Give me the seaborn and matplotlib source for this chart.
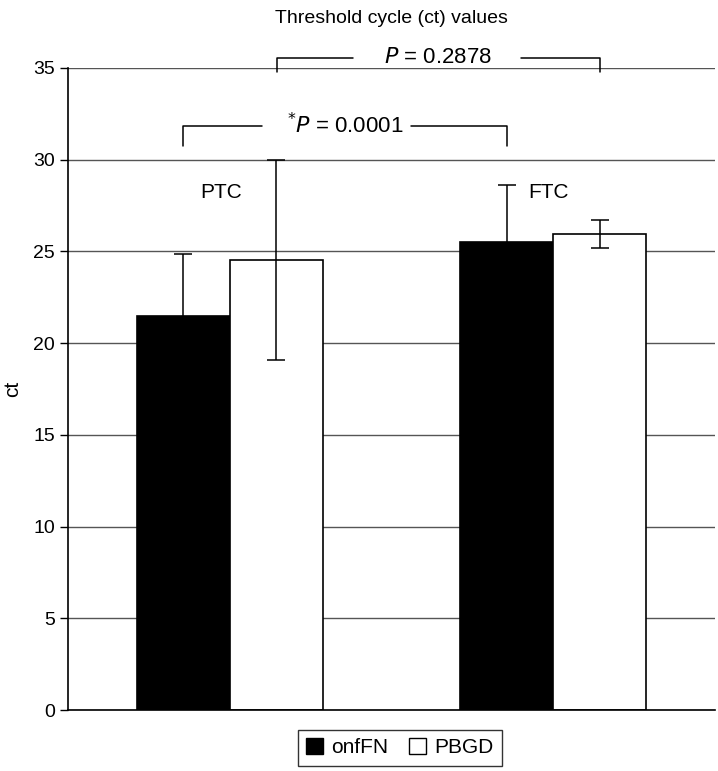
import pandas as pd
import matplotlib
matplotlib.use("Agg")
import matplotlib.pyplot as plt
import seaborn as sns
from matplotlib.patches import Patch

groups = ["PTC", "PTC", "FTC", "FTC"]
series = ["onfFN", "PBGD", "onfFN", "PBGD"]
ct = [21.45, 24.55, 25.5, 25.95]
err = [3.4, 5.45, 3.1, 0.75]

df = pd.DataFrame({"group": groups, "series": series, "ct": ct, "err": err})

sns.set_style("white")
plt.rcParams["font.family"] = ["Liberation Sans", "DejaVu Sans"]
plt.rcParams["text.color"] = "black"
plt.rcParams["axes.labelcolor"] = "black"
plt.rcParams["ytick.color"] = "black"

fig = plt.figure(figsize=(7.18, 7.71), dpi=100)
ax = fig.add_axes([0.095, 0.079, 0.901, 0.833])

sns.barplot(data=df, x="group", y="ct", hue="series", order=["PTC", "FTC"],
            hue_order=["onfFN", "PBGD"], palette=["black", "white"],
            width=0.575, errorbar=None, edgecolor="black", linewidth=1.2,
            legend=False, ax=ax, zorder=2)

# error bars on top of each bar
for cont, lvl in zip(ax.containers, ["onfFN", "PBGD"]):
    sub = df[df["series"] == lvl].set_index("group").loc[["PTC", "FTC"]]
    xs = [p.get_x() + p.get_width() / 2 for p in cont.patches]
    ax.errorbar(xs, sub["ct"], yerr=sub["err"], fmt="none", ecolor="black",
                elinewidth=1.1, capsize=6.5, capthick=1.1, zorder=3)

ax.set_ylim(0, 35)
ax.set_xlim(-0.5, 1.5)
ax.set_yticks(range(0, 36, 5))
ax.yaxis.grid(True, color="#555555", linewidth=1.0)
ax.set_axisbelow(True)
ax.set_xticks([])
ax.set_xlabel("")
ax.set_ylabel("ct", fontsize=15, labelpad=8)
ax.tick_params(axis="y", labelsize=14, left=True, length=6, width=1, color="black")
for s in ["top", "right"]:
    ax.spines[s].set_visible(False)
for s in ["left", "bottom"]:
    ax.spines[s].set_color("black")
    ax.spines[s].set_linewidth(1.2)

ax.set_title("Threshold cycle (ct) values", fontsize=14, pad=32, color="black")

# group labels
ax.text(-0.026, 28.2, "PTC", ha="center", va="center", fontsize=15)
ax.text(0.985, 28.2, "FTC", ha="center", va="center", fontsize=15)

# significance brackets
def bracket(x1, x2, ytop, ybot, g1, g2, label):
    kw = dict(color="black", lw=1.1, clip_on=False)
    ax.plot([x1, x1, g1], [ybot, ytop, ytop], **kw)
    ax.plot([g2, x2, x2], [ytop, ytop, ybot], **kw)
    ax.text((x1 + x2) / 2, ytop, label, ha="center", va="center", fontsize=16)

bracket(-0.144, 0.856, 31.85, 30.75, 0.1, 0.86 - 0.3, r"$^{*}$$\it{P}$ = 0.0001")
bracket(0.144, 1.144, 35.55, 34.8, 0.38, 0.9, r"$\it{P}$ = 0.2878")

handles = [Patch(facecolor="black", edgecolor="black", label="onfFN"),
           Patch(facecolor="white", edgecolor="black", label="PBGD")]
fig.legend(handles=handles, loc="center", bbox_to_anchor=(0.557, 0.03), ncol=2,
           frameon=True, fancybox=False, edgecolor="black", fontsize=15,
           handlelength=0.8, handleheight=0.8, handletextpad=0.4, columnspacing=1.0,
           borderpad=0.4)

fig.savefig("out.png", dpi=100)
